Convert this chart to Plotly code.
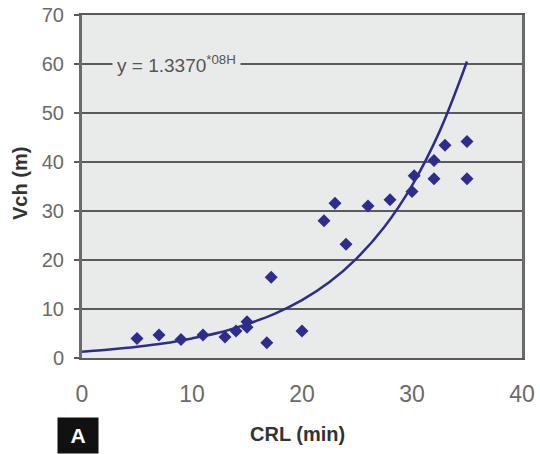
import plotly.graph_objects as go

# Observed data points (CRL in min, Vch in m)
crl = [5, 7, 9, 11, 13, 14, 15, 15, 16.8, 17.2, 20, 22, 23, 24, 26, 28, 30, 30.2, 32, 32, 33, 35, 35]
vch = [4.0, 4.7, 3.8, 4.7, 4.3, 5.5, 7.4, 6.3, 3.1, 16.5, 5.5, 28.0, 31.6, 23.2, 31.0, 32.3, 34.0, 37.2, 40.3, 36.6, 43.4, 44.2, 36.6]

# Trend line
trend_x = [0, 2.5, 5, 7.5, 10, 12.5, 15, 17.5, 20, 22.5, 25, 27.5, 30, 32.5, 35]
trend_y = [1.3, 1.75, 2.3, 3.0, 4.0, 5.2, 6.9, 9.0, 11.8, 15.5, 20.4, 26.8, 35.2, 46.2, 60.5]

x_ticks = [0, 10, 20, 30, 40]
y_ticks = [0, 10, 20, 30, 40, 50, 60, 70]

navy = "#2e2d8c"
grid = "#5a5a5a"
label_grey = "#6a6a6a"

# plot area at x 82..522, y 15..358 in the 540x454 window
W, H = 540, 454
L, R, T, B = 82, 18, 15, 96
pw, ph = W - L - R, H - T - B


def px(xp):
    return (xp - L) / pw


def py(yp):
    return (H - B - yp) / ph


fig = go.Figure()
fig.add_trace(go.Scatter(x=trend_x, y=trend_y, mode="lines",
                         line=dict(color=navy, width=2.5, shape="spline"),
                         hoverinfo="skip", showlegend=False))
fig.add_trace(go.Scatter(x=crl, y=vch, mode="markers",
                         marker=dict(symbol="diamond", size=10, color=navy),
                         showlegend=False))

fig.update_layout(
    width=W, height=H,
    margin=dict(l=L, r=R, t=T, b=B),
    paper_bgcolor="white",
    plot_bgcolor="#e9ebea",
    font=dict(family="Liberation Sans, Arial, sans-serif"),
    xaxis=dict(range=[0, 40], tickvals=x_ticks, showgrid=False, zeroline=False,
               showline=True, linecolor=grid, linewidth=2, mirror=True,
               ticks="", tickfont=dict(size=23, color=label_grey),
               ticklabelstandoff=14, automargin=False, ticklabeloverflow="allow"),
    yaxis=dict(range=[0, 70], tickvals=y_ticks, showgrid=True, gridcolor=grid,
               gridwidth=1.5, zeroline=False,
               showline=True, linecolor="#6a6a6a", linewidth=3, mirror=True,
               ticks="outside", ticklen=5, tickcolor=grid, tickwidth=1.5,
               tickfont=dict(size=20, color=label_grey), ticklabelstandoff=6,
               automargin=False, ticklabeloverflow="allow"),
    annotations=[
        dict(text="y = 1.3370<sup>*08H</sup>", x=px(112), y=60, xref="paper", yref="y",
             xanchor="left", yanchor="middle", showarrow=False,
             font=dict(size=19, color="#555555"), bgcolor="#e9ebea",
             borderpad=4),
        dict(text="<b>CRL (min)</b>", x=px(297), y=py(434), xref="paper", yref="paper",
             xanchor="center", yanchor="middle",
             showarrow=False, font=dict(size=20, color="#333333")),
        dict(text="<b>Vch (m)</b>", x=px(20), y=py(184), xref="paper", yref="paper",
             xanchor="center", yanchor="middle", textangle=-90, showarrow=False,
             font=dict(size=20, color="#333333")),
        dict(text="<b>A</b>", x=px(78), y=py(435), xref="paper", yref="paper",
             xanchor="center", yanchor="middle", showarrow=False,
             font=dict(size=21, color="white"), bgcolor="#111111",
             borderpad=4, width=32, height=27),
    ],
)

fig.write_html("out.html",
               config={"displayModeBar": False},
               post_script="document.body.style.margin='0';"
                           "document.body.style.overflow='hidden';")
